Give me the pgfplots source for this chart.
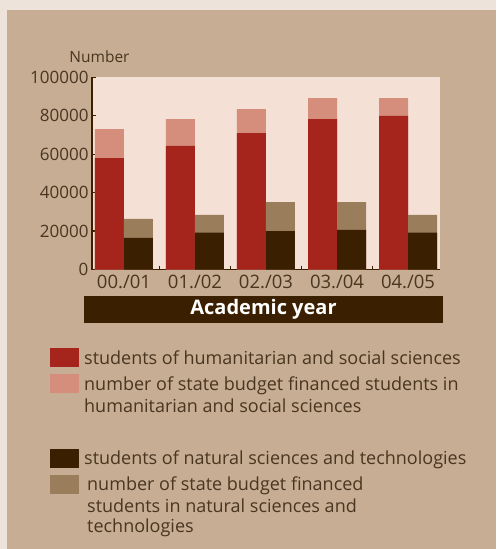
\documentclass[border=0pt]{standalone}
\usepackage{fontspec}
\setmainfont{Open Sans}
\usepackage{pgfplots}
\pgfplotsset{compat=1.18}

\definecolor{bordercol}{HTML}{EDE3DA}
\definecolor{bgtan}{HTML}{C6AD94}
\definecolor{plotbg}{HTML}{F5E0D6}
\definecolor{redc}{HTML}{A5251C}
\definecolor{pinkc}{HTML}{D48E7B}
\definecolor{darkc}{HTML}{3A2000}
\definecolor{brownc}{HTML}{9A7D5A}
\definecolor{axcol}{HTML}{3A2000}
\definecolor{txtcol}{HTML}{4A3520}

% struts for the legend rows: next line, first line of an entry, entry after the gap
\newcommand{\lgnext}{\rule[-5pt]{0pt}{23.8pt}}
\newcommand{\lgfirst}{\rule[-5pt]{0pt}{28pt}}
\newcommand{\lggap}{\rule[-5pt]{0pt}{56pt}}

\pgfplotsset{
  sq/.style={legend image code/.code={\fill[##1] (0pt,-3pt) rectangle (29pt,16pt);}},
  hbar/.style={ybar, bar width=29pt, bar shift=-14.5pt, draw=none, forget plot},
  nbar/.style={ybar, bar width=29pt, bar shift=14.5pt, draw=none, forget plot},
}

\begin{document}%
\begin{tikzpicture}[x=1pt,y=1pt]
\fill[bgtan] (0,0) rectangle (496,-549);
\fill[bordercol] (0,0) rectangle (496,-10);
\fill[bordercol] (0,0) rectangle (7,-549);
\begin{axis}[
  at={(92pt,-269.5pt)}, anchor=south west,
  scale only axis, width=348pt, height=192.2pt,
  xmin=-0.45, xmax=4.45, ymin=0, ymax=100000,
  axis x line*=bottom, axis y line*=left,
  axis line style={draw=axcol, line width=1.5pt},
  axis background/.style={fill=plotbg},
  xtick={0,...,4},
  xticklabels={00./01,01./02,02./03,03./04,04./05},
  x tick style={draw=none},
  ytick={0,20000,...,100000},
  y tick style={draw=axcol, line width=1.2pt},
  tick align=inside, major tick length=4pt,
  scaled y ticks=false,
  /pgf/number format/fixed,
  /pgf/number format/precision=0,
  /pgf/number format/1000 sep={},
  /pgf/number format/assume math mode=true,
  yticklabel style={font=\fontsize{17}{20}\selectfont, text=txtcol},
  xticklabel style={font=\fontsize{18.5}{22}\selectfont, text=txtcol, yshift=-2pt},
  ylabel={Number},
  every axis y label/.style={at={(axis description cs:0,1)}, anchor=center,
    xshift=7.5pt, yshift=20.3pt, font=\fontsize{15.5}{18}\selectfont, text=txtcol},
  xlabel={Academic year},
  every axis x label/.style={at={(axis description cs:0.5,0)}, anchor=north,
    xshift=-2.5pt, yshift=-26.5pt, fill=darkc, text=white, inner sep=0pt,
    minimum width=359pt, minimum height=27pt, font=\bfseries\fontsize{20}{24}\selectfont},
  legend cell align=left,
  legend style={at={(axis description cs:-0.1207,-0.372)}, anchor=north west,
    draw=none, fill=none, inner sep=0pt, column sep=5pt, row sep=0pt,
    font=\fontsize{18}{21.6}\selectfont,
    nodes={inner sep=0pt, text=txtcol}, cells={anchor=base west}},
]
\addplot[hbar, fill=pinkc] coordinates {(0,73100) (1,78300) (2,83500) (3,89200) (4,89200)};
\addplot[hbar, fill=redc] coordinates {(0,58000) (1,64300) (2,71000) (3,78300) (4,79900)};
\addplot[nbar, fill=brownc] coordinates {(0,26300) (1,28400) (2,35100) (3,35100) (4,28400)};
\addplot[nbar, fill=darkc] coordinates {(0,16400) (1,19200) (2,20000) (3,20600) (4,19200)};

\draw[axcol, line width=1.5pt] (axis cs:0.5,0) ++(0pt,4pt) -- ++(0pt,-24pt);
\draw[axcol, line width=1.5pt] (axis cs:1.5,0) ++(0pt,4pt) -- ++(0pt,-24pt);
\draw[axcol, line width=1.5pt] (axis cs:2.5,0) ++(0pt,4pt) -- ++(0pt,-24pt);
\draw[axcol, line width=1.5pt] (axis cs:3.5,0) ++(0pt,4pt) -- ++(0pt,-24pt);

\addlegendimage{sq, fill=redc, draw=none}
\addlegendentry{\lgfirst students of humanitarian and social sciences}
\addlegendimage{sq, fill=pinkc, draw=none}
\addlegendentry{\lgfirst number of state budget financed students in}
\addlegendimage{empty legend}
\addlegendentry{\lgnext humanitarian and social sciences}
\addlegendimage{sq, fill=darkc, draw=none}
\addlegendentry{\lggap students of natural sciences and technologies}
\addlegendimage{sq, fill=brownc, draw=none}
\addlegendentry{\lgfirst\hspace*{3pt}number of state budget financed}
\addlegendimage{empty legend}
\addlegendentry{\lgnext\hspace*{3pt}students in natural sciences and}
\addlegendimage{empty legend}
\addlegendentry{\lgnext\hspace*{3pt}technologies}
\end{axis}
\pgfresetboundingbox
\path[use as bounding box] (0,0) rectangle (496,-549);
\end{tikzpicture}%
\end{document}
